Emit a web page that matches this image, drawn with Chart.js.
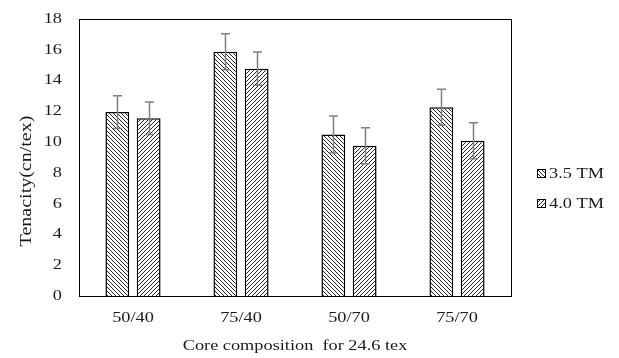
<!DOCTYPE html>
<html>
<head>
<meta charset="utf-8">
<script src="https://cdn.jsdelivr.net/npm/chart.js@4"></script>
<style>
  html, body { margin: 0; padding: 0; background: #fff; }
  #wrap { width: 619px; height: 358px; }
</style>
</head>
<body>
<div id="wrap"><canvas id="chart" width="619" height="358"></canvas></div>
<script>
// Data
const categories = ['50/40', '75/40', '50/70', '75/70'];
const seriesNames = ['3.5 TM', '4.0 TM'];
const tenacity35 = [11.95, 15.87, 10.5, 12.26];
const tenacity40 = [11.55, 14.77, 9.77, 10.09];
const error35 = [1.07, 1.17, 1.2, 1.17];
const error40 = [1.05, 1.08, 1.17, 1.17];
const yTicks = [0, 2, 4, 6, 8, 10, 12, 14, 16, 18];
const xTitle = 'Core composition  for 24.6 tex';
const yTitle = 'Tenacity(cn/tex)';

const serif = "'Liberation Serif', 'Times New Roman', serif";
// the reference text is a little wider than plain Times
const stretch = 1.22;

// Hatch patterns: "\" for 3.5 TM, "/" for 4.0 TM
function makeHatch(backslash) {
  const size = 4;
  const c = document.createElement('canvas');
  c.width = size;
  c.height = size;
  const g = c.getContext('2d');
  g.fillStyle = '#fff';
  g.fillRect(0, 0, size, size);
  g.fillStyle = '#222';
  for (let i = 0; i < size; i++) {
    const x = backslash ? i : size - 1 - i;
    g.fillRect(x, i, 1, 1);
  }
  return g.createPattern(c, 'repeat');
}

function drawText(g, text, x, y, align, sx, angle) {
  g.save();
  g.translate(x, y);
  if (angle) g.rotate(angle);
  g.scale(sx, 1);
  g.textAlign = align;
  g.textBaseline = 'middle';
  g.fillText(text, 0, 0);
  g.restore();
}

const ctx = document.getElementById('chart').getContext('2d');
const hatchBack = makeHatch(true);
const hatchFwd = makeHatch(false);

// Error bars drawn through the y scale
const errorBars = {
  id: 'errorBars',
  afterDatasetsDraw(chart) {
    const errs = [error35, error40];
    const y = chart.scales.y;
    const g = chart.ctx;
    g.save();
    g.strokeStyle = '#7f7f7f';
    g.lineWidth = 1.5;
    chart.data.datasets.forEach((ds, di) => {
      const meta = chart.getDatasetMeta(di);
      meta.data.forEach((bar, i) => {
        const v = ds.data[i];
        const e = errs[di][i];
        const x = Math.round(bar.x) + 0.5;
        const yTop = y.getPixelForValue(v + e);
        const yBot = y.getPixelForValue(v - e);
        g.beginPath();
        g.moveTo(x, yTop);
        g.lineTo(x, yBot);
        g.moveTo(x - 4.5, yTop);
        g.lineTo(x + 4.5, yTop);
        g.moveTo(x - 4.5, yBot);
        g.lineTo(x + 4.5, yBot);
        g.stroke();
      });
    });
    g.restore();
  }
};

// Box around the plot area
const plotBox = {
  id: 'plotBox',
  beforeDatasetsDraw(chart) {
    const a = chart.chartArea;
    const g = chart.ctx;
    g.save();
    g.strokeStyle = '#000';
    g.lineWidth = 1;
    g.strokeRect(Math.round(a.left) + 0.5, Math.round(a.top) + 0.5,
      Math.round(a.right - a.left), Math.round(a.bottom - a.top));
    g.restore();
  }
};

// Tick labels and axis titles, placed through the chart's scales
const axisText = {
  id: 'axisText',
  afterDraw(chart) {
    const g = chart.ctx;
    const xs = chart.scales.x;
    const ys = chart.scales.y;
    const a = chart.chartArea;
    g.save();
    g.fillStyle = '#1a1a1a';
    g.font = '15px ' + serif;
    yTicks.forEach(v => {
      drawText(g, String(v), a.left - 17, ys.getPixelForValue(v), 'right', stretch);
    });
    categories.forEach((c, i) => {
      drawText(g, c, xs.getPixelForTick(i), a.bottom + 22, 'center', stretch);
    });
    drawText(g, xTitle, (a.left + a.right) / 2, 346, 'center', stretch);
    g.font = '16px ' + serif;
    drawText(g, yTitle, 27, 181, 'center', 1.25, -Math.PI / 2);
    g.restore();
  }
};

// Legend on the right
const sideLegend = {
  id: 'sideLegend',
  afterDraw(chart) {
    const g = chart.ctx;
    const x = 537;
    const ys = [173, 203];
    g.save();
    g.font = '15px ' + serif;
    chart.data.datasets.forEach((ds, i) => {
      g.fillStyle = ds.backgroundColor;
      g.fillRect(x, ys[i] - 4, 9, 9);
      g.strokeStyle = '#000';
      g.lineWidth = 1;
      g.strokeRect(x + 0.5, ys[i] - 3.5, 8, 8);
      g.fillStyle = '#1a1a1a';
      drawText(g, ds.label, x + 12, ys[i] + 1, 'left', stretch);
    });
    g.restore();
  }
};

new Chart(ctx, {
  type: 'bar',
  data: {
    labels: categories,
    datasets: [
      {
        label: seriesNames[0],
        data: tenacity35,
        backgroundColor: hatchBack,
        borderColor: '#000',
        borderWidth: 1.5
      },
      {
        label: seriesNames[1],
        data: tenacity40,
        backgroundColor: hatchFwd,
        borderColor: '#000',
        borderWidth: 1.5
      }
    ]
  },
  options: {
    responsive: false,
    animation: false,
    categoryPercentage: 0.58,
    barPercentage: 0.76,
    layout: { padding: { left: 0, right: 108, top: 19, bottom: 0 } },
    plugins: {
      legend: { display: false },
      tooltip: { enabled: false }
    },
    scales: {
      x: {
        grid: { display: false, drawTicks: false },
        border: { display: false },
        ticks: { display: false },
        afterFit(scale) { scale.height = 62; }
      },
      y: {
        min: 0,
        max: 18,
        grid: { display: false, drawTicks: false },
        border: { display: false },
        ticks: { display: false },
        afterBuildTicks(scale) {
          scale.ticks = yTicks.map(v => ({ value: v }));
        },
        afterFit(scale) { scale.width = 79; }
      }
    }
  },
  plugins: [plotBox, errorBars, axisText, sideLegend]
});
</script>
</body>
</html>
